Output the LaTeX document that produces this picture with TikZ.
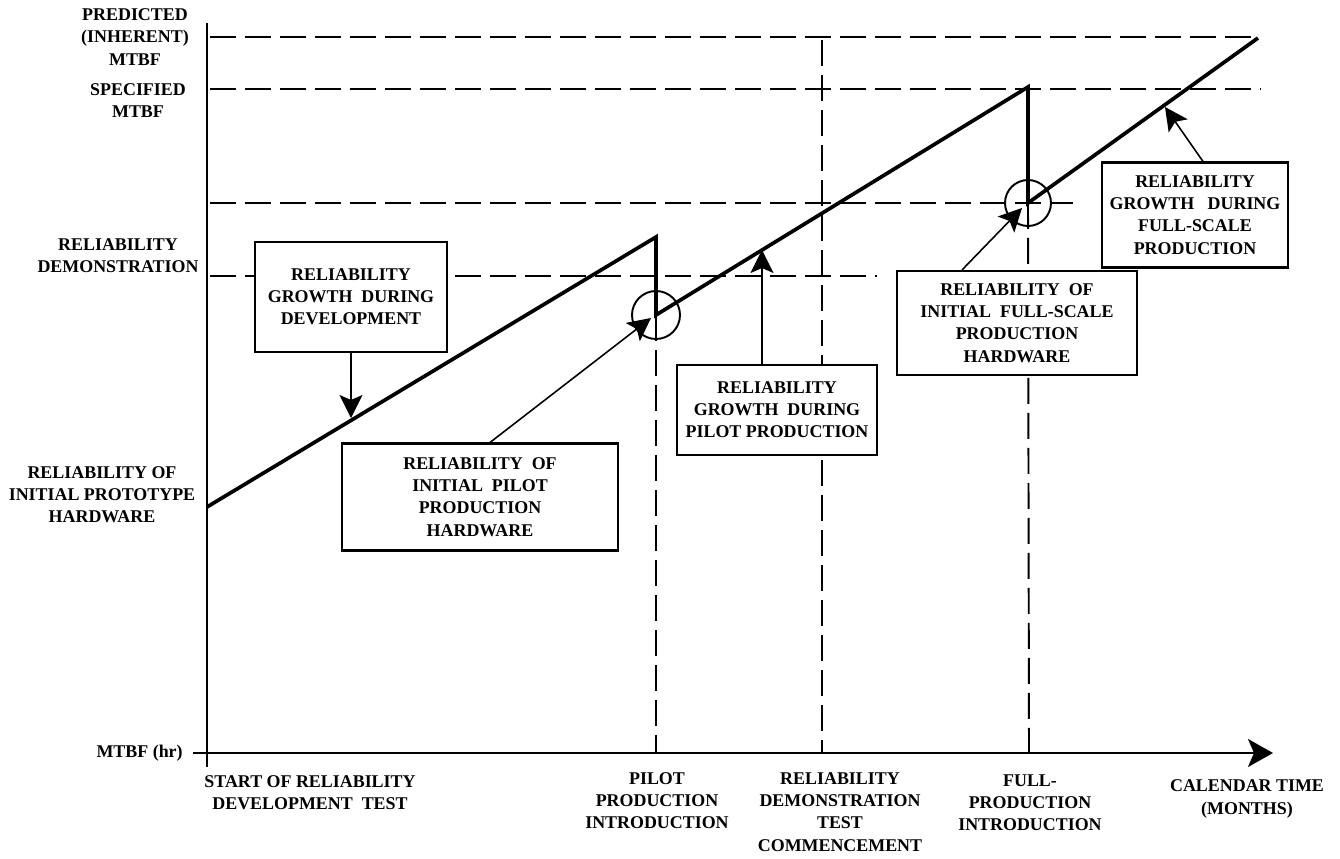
\documentclass[tikz,border=0pt]{standalone}
\usepackage{fontspec}
\setmainfont{Liberation Serif}
\usetikzlibrary{arrows.meta}
\tikzset{
  lbl/.style={font=\fontsize{10.2pt}{12.6pt}\selectfont\bfseries, align=center, inner sep=0pt},
  box/.style={lbl, draw, fill=white, line width=1.2pt},
  guide/.style={line width=1.1pt, dash pattern=on 0.52cm off 0.18cm},
  growth/.style={line width=2.1pt},
  lead/.style={line width=0.9pt, -{Stealth[length=0.46cm,width=0.46cm,inset=0.1cm]}},
}

\begin{document}
\begin{tikzpicture}[x=0.02cm,y=-0.02cm]
\useasboundingbox (0,0) rectangle (1340,859);
\coordinate (p0) at (207,507);
\coordinate (p1) at (656,237);
\coordinate (c1) at (656,315);
\coordinate (p2) at (1028,87);
\coordinate (c2) at (1028,203);
\coordinate (p3) at (1258,38);
\coordinate (devtip) at (351,418);
\coordinate (hwtip1) at (651,318);
\coordinate (grtip1) at (762,250);
\coordinate (hwtip2) at (1022,208);
\coordinate (grtip2) at (1165,107);

\draw[guide] (210,37)--(1258,37);
\draw[guide] (210,89)--(1260,89);
\draw[guide] (210,203)--(1073,203);
\draw[guide] (210,276)--(877,276);
\draw[guide] (c1)--(656,753);
\draw[guide] (822,40)--(822,753);
\draw[guide] (c2)--(1029,753);

\draw[line width=1.3pt, -{Stealth[length=0.5cm,width=0.56cm,inset=0.12cm]}] (193,753)--(1273,753);
\draw[line width=1.3pt] (207,767)--(207,23);

\draw[growth] (p0)--(p1)--(c1)--(p2)--(c2)--(p3);
\draw[line width=1.1pt] (c1) circle[radius=0.48cm];
\draw[line width=1.1pt] (c2) circle[radius=0.46cm];

\node[box, minimum width=3.84cm, minimum height=2.2cm] (devbox) at (351,297)
  {RELIABILITY\\GROWTH\ \ DURING\\DEVELOPMENT};
\node[box, minimum width=5.52cm, minimum height=2.14cm] (pilothw) at (480,497)
  {RELIABILITY\ \ OF\\INITIAL\ \ PILOT\\PRODUCTION\\HARDWARE};
\node[box, minimum width=4cm, minimum height=1.8cm] (pilotgr) at (777,410)
  {RELIABILITY\\GROWTH\ \ DURING\\PILOT PRODUCTION};
\node[box, minimum width=4.8cm, minimum height=2.08cm] (fullhw) at (1017,323)
  {RELIABILITY\ \ OF\\INITIAL\ \ FULL-SCALE\\PRODUCTION\\HARDWARE};
\node[box, minimum width=3.72cm, minimum height=2.1cm] (fullgr) at (1195,215)
  {RELIABILITY\\GROWTH\ \ \ DURING\\FULL-SCALE\\PRODUCTION};

\draw[lead] (devbox.south) -- (devtip);
\draw[lead] ([xshift=0.2cm]pilothw.north) -- (hwtip1);
\draw[lead] ([xshift=-0.3cm]pilotgr.north) -- (grtip1);
\draw[lead] ([xshift=-1.1cm]fullhw.north) -- (hwtip2);
\draw[lead] ([xshift=0.16cm]fullgr.north) -- (grtip2);

\node[lbl] (predlbl) at (135,37) {PREDICTED\\(INHERENT)\\MTBF};
\node[lbl] (speclbl) at (138,101) {SPECIFIED\\MTBF};
\node[lbl] (demolbl) at (118,256) {RELIABILITY\\DEMONSTRATION};
\node[lbl] (protolbl) at (102,495) {RELIABILITY OF\\INITIAL PROTOTYPE\\HARDWARE};
\node[lbl, anchor=east] (mtbflbl) at (183,753) {MTBF (hr)};

\node[lbl] (startlbl) at (310,793) {START OF RELIABILITY\\DEVELOPMENT\ \ TEST};
\node[lbl] (pilotlbl) at (657,801) {PILOT\\PRODUCTION\\INTRODUCTION};
\node[lbl] (testlbl) at (840,812) {RELIABILITY\\DEMONSTRATION\\TEST\\COMMENCEMENT};
\node[lbl] (fulllbl) at (1030,803) {FULL-\\PRODUCTION\\INTRODUCTION};
\node[lbl] (callbl) at (1247,799) {CALENDAR TIME\\(MONTHS)};
\end{tikzpicture}
\end{document}
